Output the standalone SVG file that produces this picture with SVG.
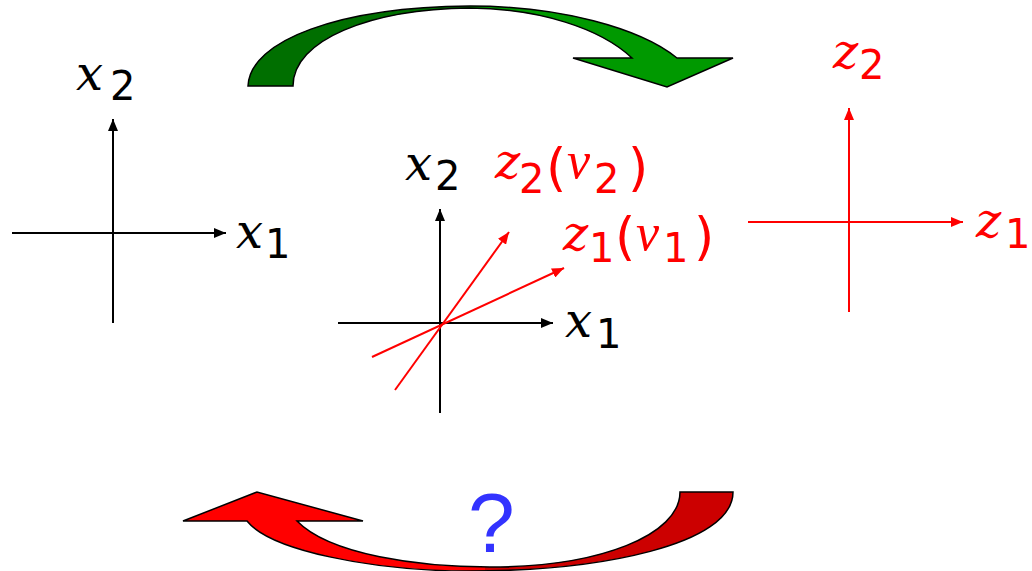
<svg xmlns="http://www.w3.org/2000/svg" width="1032" height="571" viewBox="0 0 1032 571">
<style>
  .ax { stroke:#000; stroke-width:2; fill:none; }
  .axr { stroke:#ff0000; stroke-width:2; fill:none; }
  .v { font-family:"DejaVu Serif", serif; font-style:italic; font-size:48px; }
  .w { font-family:"Liberation Serif", serif; font-style:italic; font-size:52px; }
  .d { font-family:"DejaVu Sans", sans-serif; font-size:40px; }
  .p { font-family:"DejaVu Sans", sans-serif; font-size:52px; }
  .k { fill:#000; }
  .r { fill:#ff0000; }
  .big { stroke:#000; stroke-width:1.5; stroke-linejoin:miter; }
</style>
<defs>
  <marker id="ahk" markerUnits="userSpaceOnUse" markerWidth="13" markerHeight="10" refX="12" refY="5" orient="auto">
    <path d="M0,0 L12,5 L0,10 Z" fill="#000"/>
  </marker>
  <marker id="ahr" markerUnits="userSpaceOnUse" markerWidth="13" markerHeight="10" refX="12" refY="5" orient="auto">
    <path d="M0,0 L12,5 L0,10 Z" fill="#ff0000"/>
  </marker>
  <linearGradient id="gG" gradientUnits="userSpaceOnUse" x1="0" y1="0" x2="1032" y2="0">
    <stop offset="0" stop-color="#006f00"/>
    <stop offset="0.4554" stop-color="#006f00"/>
    <stop offset="0.4554" stop-color="#009900"/>
    <stop offset="1" stop-color="#009900"/>
  </linearGradient>
  <linearGradient id="gR" gradientUnits="userSpaceOnUse" x1="0" y1="0" x2="1032" y2="0">
    <stop offset="0" stop-color="#ff0000"/>
    <stop offset="0.47" stop-color="#ff0000"/>
    <stop offset="0.47" stop-color="#cc0000"/>
    <stop offset="1" stop-color="#cc0000"/>
  </linearGradient>
</defs>

<g id="connectors">
  <path id="green-arrow" class="big" fill="url(#gG)" d="M248,86 C250,40 340,7 470,6 C560,6 640,28 677,58 L733,58 L667,87 L573,58 L632,58 C600,28 540,9 470,8 C370,9 293,40 293,86 Z"/>
  <path id="red-arrow" class="big" fill="url(#gR)" d="M183,521 L257,492 L363,521 L297,521 C330,555 420,567 490,567 C600,567 680,535 680,492 L733,492 C733,545 600,571 470,571 C370,571 270,550 247,521 Z"/>
</g>

<g id="left-axes">
  <line class="ax" x1="12" y1="233" x2="226" y2="233" marker-end="url(#ahk)"/>
  <line class="ax" x1="113" y1="323" x2="113" y2="119" marker-end="url(#ahk)"/>
  <text class="v k" x="76" y="90">x</text><text class="d k" x="110" y="100">2</text>
  <text class="v k" x="236" y="248">x</text><text class="d k" x="265" y="258">1</text>
</g>

<g id="center-axes">
  <line class="ax" x1="338" y1="323" x2="553" y2="323" marker-end="url(#ahk)"/>
  <line class="ax" x1="440" y1="413" x2="440" y2="209" marker-end="url(#ahk)"/>
  <line class="axr" x1="372" y1="357" x2="564" y2="268" marker-end="url(#ahr)"/>
  <line class="axr" x1="395" y1="390" x2="509" y2="232" marker-end="url(#ahr)"/>
  <text class="v k" x="405" y="180">x</text><text class="d k" x="435" y="190">2</text>
  <text class="v k" x="565" y="337">x</text><text class="d k" x="596" y="348">1</text>
  <text class="v r" x="495" y="178">z</text><text class="d r" x="519" y="193">2</text>
  <text class="p r" x="546" y="185">(</text>
  <text class="w r" x="567" y="178">v</text><text class="d r" x="594" y="193">2</text>
  <text class="p r" x="628" y="185">)</text>
  <text class="v r" x="563" y="250">z</text><text class="d r" x="589" y="262">1</text>
  <text class="p r" x="615" y="254">(</text>
  <text class="w r" x="636" y="250">v</text><text class="d r" x="663" y="262">1</text>
  <text class="p r" x="694" y="254">)</text>
</g>

<g id="right-axes">
  <line class="axr" x1="748" y1="222" x2="963" y2="222" marker-end="url(#ahr)"/>
  <line class="axr" x1="849" y1="312" x2="849" y2="108" marker-end="url(#ahr)"/>
  <text class="v r" x="833" y="68">z</text><text class="d r" x="859" y="79">2</text>
  <text class="v r" x="976" y="237">z</text><text class="d r" x="1005" y="248">1</text>
</g>

<g id="question">
  <text x="468" y="552" font-family="'Liberation Sans', Arial, sans-serif" font-size="84" fill="#3333ff">?</text>
</g>
</svg>
